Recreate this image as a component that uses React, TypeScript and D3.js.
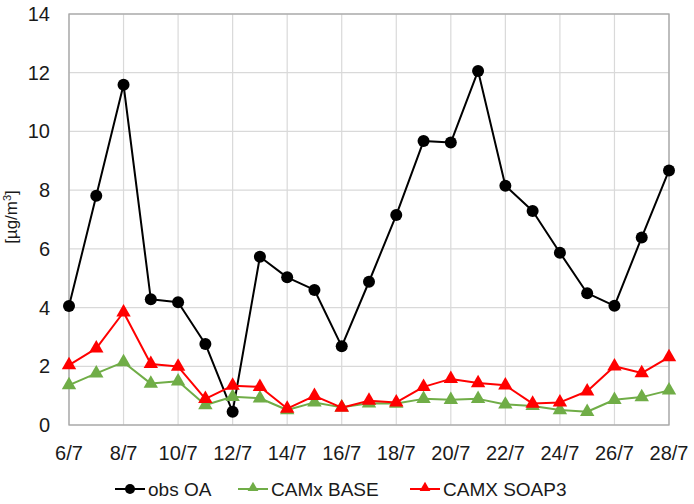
import React from "react";
import * as d3 from "d3";

const days = d3.range(6, 29);
const tickDays = d3.range(6, 29, 2);
const yTicks = d3.range(0, 15, 2);

const obsOA = [4.05, 7.81, 11.59, 4.28, 4.18, 2.76, 0.45, 5.73, 5.03, 4.6, 2.68, 4.88, 7.15, 9.67, 9.62, 12.06, 8.15, 7.29, 5.87, 4.49, 4.06, 6.39, 8.67];
const camxBase = [1.36, 1.76, 2.14, 1.41, 1.49, 0.68, 0.96, 0.91, 0.51, 0.77, 0.6, 0.74, 0.73, 0.89, 0.86, 0.89, 0.7, 0.65, 0.51, 0.45, 0.86, 0.95, 1.18];
const camxSoap3 = [2.04, 2.61, 3.84, 2.08, 1.99, 0.89, 1.34, 1.3, 0.56, 0.99, 0.59, 0.83, 0.77, 1.3, 1.57, 1.43, 1.35, 0.73, 0.77, 1.15, 2.0, 1.77, 2.31];

const W = 694;
const H = 504;
const M = { left: 69, right: 25, top: 14, bottom: 79 };
const FONT = "'Liberation Sans', Arial, sans-serif";

type Series = { name: string; values: number[]; color: string; marker: "circle" | "triangle" };

const series: Series[] = [
  { name: "obs OA", values: obsOA, color: "#000000", marker: "circle" },
  { name: "CAMx BASE", values: camxBase, color: "#70ad47", marker: "triangle" },
  { name: "CAMX SOAP3", values: camxSoap3, color: "#ff0000", marker: "triangle" },
];

function Marker({ kind, x, y, color }: { kind: string; x: number; y: number; color: string }) {
  if (kind === "circle") return <circle cx={x} cy={y} r={6} fill={color} />;
  const tri = d3.symbol().type(d3.symbolTriangle).size(90)();
  return <path d={tri || ""} transform={`translate(${x},${y})`} fill={color} />;
}

export default function App() {
  const x = d3.scaleLinear().domain([6, 28]).range([M.left, W - M.right]);
  const y = d3.scaleLinear().domain([0, 14]).range([H - M.bottom, M.top]);
  const line = d3
    .line<number>()
    .x((_, i) => x(days[i]))
    .y((d) => y(d));

  const legendItems = [
    { s: series[0], x0: 115 },
    { s: series[1], x0: 238 },
    { s: series[2], x0: 410 },
  ];

  return (
    <svg width={W} height={H} style={{ position: "absolute", left: 0, top: 0, background: "#fff" }} fontFamily={FONT}>
      {/* grid */}
      {yTicks.map((t) => (
        <line key={"gy" + t} x1={x(6)} x2={x(28)} y1={y(t)} y2={y(t)} stroke="#d9d9d9" strokeWidth={1.2} />
      ))}
      {tickDays.map((d) => (
        <line key={"gx" + d} x1={x(d)} x2={x(d)} y1={y(0)} y2={y(14)} stroke="#d9d9d9" strokeWidth={1.2} />
      ))}
      <rect x={x(6)} y={y(14)} width={x(28) - x(6)} height={y(0) - y(14)} fill="none" stroke="#a6a6a6" strokeWidth={1.3} />

      {/* y tick labels */}
      {yTicks.map((t) => (
        <text key={"ty" + t} x={50} y={y(t)} textAnchor="end" dominantBaseline="central" fontSize={20} fill="#1a1a1a">
          {t}
        </text>
      ))}
      {/* x tick labels */}
      {tickDays.map((d) => (
        <text key={"tx" + d} x={x(d)} y={460} textAnchor="middle" fontSize={20} fill="#1a1a1a">
          {`${d}/7`}
        </text>
      ))}

      {/* y axis title */}
      <text transform={`translate(17,217) rotate(-90)`} textAnchor="middle" fontSize={17} fill="#1a1a1a">
        [µg/m<tspan baselineShift="super" fontSize={11}>3</tspan>]
      </text>

      {/* series */}
      {series.map((s) => (
        <g key={s.name}>
          <path d={line(s.values) || ""} fill="none" stroke={s.color} strokeWidth={2} strokeLinejoin="round" />
          {s.values.map((v, i) => (
            <Marker key={i} kind={s.marker} x={x(days[i])} y={y(v)} color={s.color} />
          ))}
        </g>
      ))}

      {/* legend */}
      {legendItems.map(({ s, x0 }) => (
        <g key={"lg" + s.name}>
          <line x1={x0} x2={x0 + 30} y1={489} y2={489} stroke={s.color} strokeWidth={2} />
          {s.marker === "circle" ? (
            <circle cx={x0 + 15} cy={489} r={5} fill={s.color} />
          ) : (
            <path d={d3.symbol().type(d3.symbolTriangle).size(50)() || ""} transform={`translate(${x0 + 15},488)`} fill={s.color} />
          )}
          <text x={x0 + 33} y={496} fontSize={19} fill="#1a1a1a">
            {s.name}
          </text>
        </g>
      ))}
    </svg>
  );
}
